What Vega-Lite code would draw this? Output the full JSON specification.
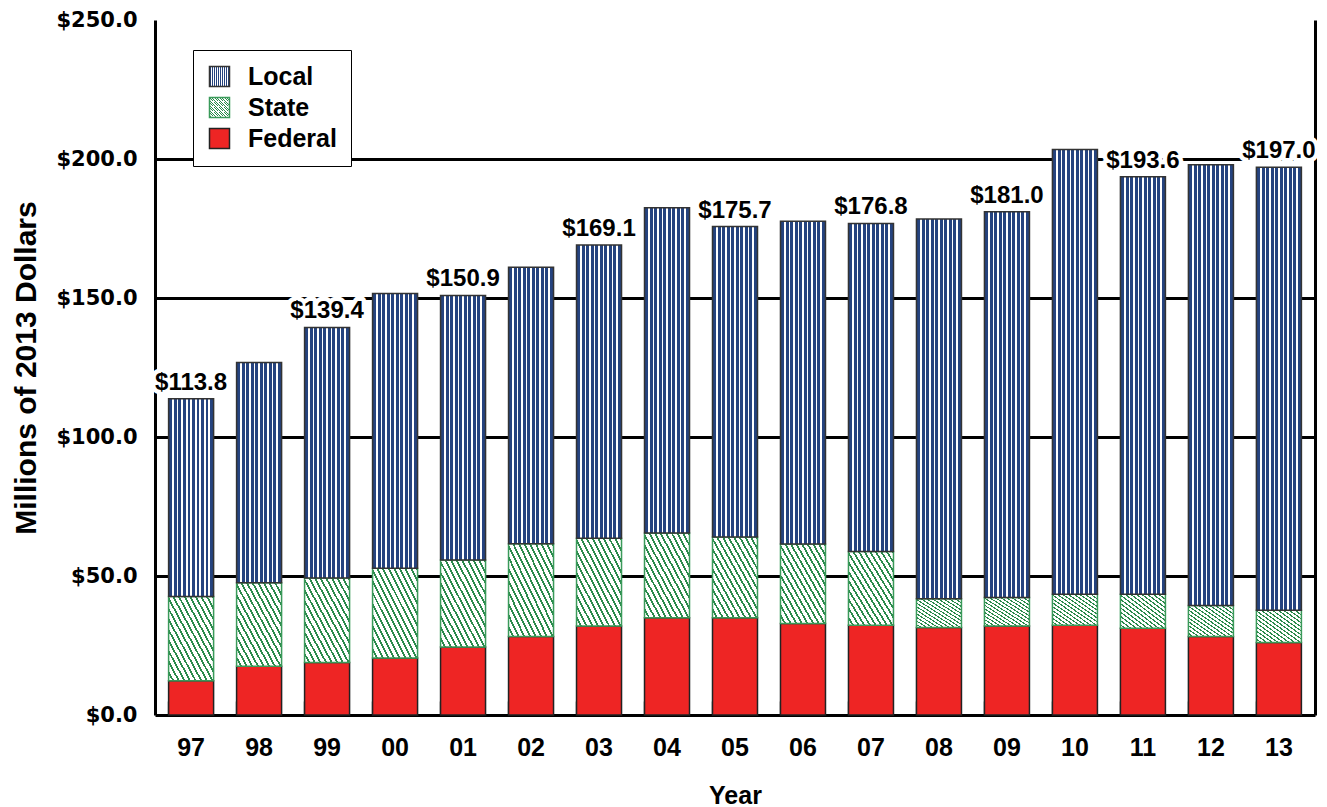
{
  "$schema": "https://vega.github.io/schema/vega-lite/v6.json",
  "width": 1160,
  "height": 695,
  "autosize": "none",
  "padding": {"left": 155, "top": 20, "right": 12, "bottom": 92},
  "background": "white",
  "config": {"view": {"stroke": null}, "font": "Liberation Sans"},
  "data": {"values": [
    {"year": "97", "Federal": 12.3, "State": 30.3, "Local": 71.2},
    {"year": "98", "Federal": 17.5, "State": 30.1, "Local": 79.2},
    {"year": "99", "Federal": 18.9, "State": 30.4, "Local": 90.1},
    {"year": "00", "Federal": 20.5, "State": 32.3, "Local": 98.8},
    {"year": "01", "Federal": 24.5, "State": 31.3, "Local": 95.1},
    {"year": "02", "Federal": 28.2, "State": 33.4, "Local": 99.5},
    {"year": "03", "Federal": 32.0, "State": 31.6, "Local": 105.5},
    {"year": "04", "Federal": 35.0, "State": 30.5, "Local": 117.0},
    {"year": "05", "Federal": 35.0, "State": 29.0, "Local": 111.7},
    {"year": "06", "Federal": 32.9, "State": 28.6, "Local": 116.1},
    {"year": "07", "Federal": 32.3, "State": 26.5, "Local": 118.0},
    {"year": "08", "Federal": 31.5, "State": 10.3, "Local": 136.6},
    {"year": "09", "Federal": 32.0, "State": 10.3, "Local": 138.7},
    {"year": "10", "Federal": 32.3, "State": 11.1, "Local": 160.0},
    {"year": "11", "Federal": 31.2, "State": 12.2, "Local": 150.2},
    {"year": "12", "Federal": 28.2, "State": 11.2, "Local": 158.5},
    {"year": "13", "Federal": 26.1, "State": 11.6, "Local": 159.3}
  ]},
  "transform": [
    {"fold": ["Federal", "State", "Local"], "as": ["source", "value"]},
    {"calculate": "indexof(['Federal','State','Local'], datum.source)", "as": "ord"}
  ],
  "encoding": {
    "x": {
      "field": "year", "type": "ordinal",
      "sort": ["97","98","99","00","01","02","03","04","05","06","07","08","09","10","11","12","13"],
      "scale": {"paddingInner": 0.338, "paddingOuter": 0.2},
      "axis": {
        "labelAngle": 0, "labelFont": "Liberation Sans", "labelFontSize": 25, "labelFontWeight": "bold", "labelColor": "black",
        "labelPadding": 34, "bandPosition": 0, "ticks": true, "tickSize": -14, "tickColor": "#555555", "tickWidth": 1.5,
        "domain": true, "domainColor": "black", "domainWidth": 3, "grid": false,
        "title": "Year", "titleFont": "Liberation Sans", "titleFontSize": 25, "titleFontWeight": "bold", "titleColor": "black", "titlePadding": 23
      }
    }
  },
  "layer": [
    {
      "mark": {"type": "bar", "strokeWidth": 1.5},
      "encoding": {
        "y": {
          "field": "value", "type": "quantitative", "stack": "zero",
          "scale": {"domain": [0, 250], "nice": false},
          "axis": {
            "orient": "left", "values": [0, 50, 100, 150, 200, 250], "format": "$.1f",
            "labelFont": "DejaVu Sans", "labelFontSize": 21, "labelFontWeight": "bold", "labelColor": "black", "labelPadding": 18,
            "ticks": false, "domain": true, "domainColor": "black", "domainWidth": 3, "grid": false,
            "title": "Millions of 2013 Dollars", "titleFont": "Liberation Sans", "titleFontSize": 30, "titleFontWeight": "bold", "titleColor": "black", "titlePadding": 14
          }
        },
        "fill": {
          "field": "source", "type": "nominal",
          "scale": {
            "domain": ["Local", "State", "Federal"],
            "range": [
              {"expr": "{gradient:'linear',x1:0,y1:0,x2:1,y2:0,stops:[{offset:0,color:'#ffffff'},{offset:0.02,color:'#ffffff'},{offset:0.02,color:'#25437f'},{offset:0.085,color:'#25437f'},{offset:0.085,color:'#ffffff'},{offset:0.12,color:'#ffffff'},{offset:0.12,color:'#25437f'},{offset:0.185,color:'#25437f'},{offset:0.185,color:'#ffffff'},{offset:0.22,color:'#ffffff'},{offset:0.22,color:'#25437f'},{offset:0.285,color:'#25437f'},{offset:0.285,color:'#ffffff'},{offset:0.32,color:'#ffffff'},{offset:0.32,color:'#25437f'},{offset:0.385,color:'#25437f'},{offset:0.385,color:'#ffffff'},{offset:0.42,color:'#ffffff'},{offset:0.42,color:'#25437f'},{offset:0.485,color:'#25437f'},{offset:0.485,color:'#ffffff'},{offset:0.52,color:'#ffffff'},{offset:0.52,color:'#25437f'},{offset:0.585,color:'#25437f'},{offset:0.585,color:'#ffffff'},{offset:0.62,color:'#ffffff'},{offset:0.62,color:'#25437f'},{offset:0.685,color:'#25437f'},{offset:0.685,color:'#ffffff'},{offset:0.72,color:'#ffffff'},{offset:0.72,color:'#25437f'},{offset:0.785,color:'#25437f'},{offset:0.785,color:'#ffffff'},{offset:0.82,color:'#ffffff'},{offset:0.82,color:'#25437f'},{offset:0.885,color:'#25437f'},{offset:0.885,color:'#ffffff'},{offset:0.92,color:'#ffffff'},{offset:0.92,color:'#25437f'},{offset:0.985,color:'#25437f'},{offset:0.985,color:'#ffffff'},{offset:1,color:'#ffffff'}]}"},
              {"expr": "{gradient:'linear',x1:1,y1:0,x2:0,y2:1,stops:[{offset:0,color:'#2b8a4c'},{offset:0.022,color:'#2b8a4c'},{offset:0.022,color:'#ffffff'},{offset:0.0625,color:'#ffffff'},{offset:0.0625,color:'#2b8a4c'},{offset:0.0845,color:'#2b8a4c'},{offset:0.0845,color:'#ffffff'},{offset:0.125,color:'#ffffff'},{offset:0.125,color:'#2b8a4c'},{offset:0.147,color:'#2b8a4c'},{offset:0.147,color:'#ffffff'},{offset:0.1875,color:'#ffffff'},{offset:0.1875,color:'#2b8a4c'},{offset:0.2095,color:'#2b8a4c'},{offset:0.2095,color:'#ffffff'},{offset:0.25,color:'#ffffff'},{offset:0.25,color:'#2b8a4c'},{offset:0.272,color:'#2b8a4c'},{offset:0.272,color:'#ffffff'},{offset:0.3125,color:'#ffffff'},{offset:0.3125,color:'#2b8a4c'},{offset:0.3345,color:'#2b8a4c'},{offset:0.3345,color:'#ffffff'},{offset:0.375,color:'#ffffff'},{offset:0.375,color:'#2b8a4c'},{offset:0.397,color:'#2b8a4c'},{offset:0.397,color:'#ffffff'},{offset:0.4375,color:'#ffffff'},{offset:0.4375,color:'#2b8a4c'},{offset:0.4595,color:'#2b8a4c'},{offset:0.4595,color:'#ffffff'},{offset:0.5,color:'#ffffff'},{offset:0.5,color:'#2b8a4c'},{offset:0.522,color:'#2b8a4c'},{offset:0.522,color:'#ffffff'},{offset:0.5625,color:'#ffffff'},{offset:0.5625,color:'#2b8a4c'},{offset:0.5845,color:'#2b8a4c'},{offset:0.5845,color:'#ffffff'},{offset:0.625,color:'#ffffff'},{offset:0.625,color:'#2b8a4c'},{offset:0.647,color:'#2b8a4c'},{offset:0.647,color:'#ffffff'},{offset:0.6875,color:'#ffffff'},{offset:0.6875,color:'#2b8a4c'},{offset:0.7095,color:'#2b8a4c'},{offset:0.7095,color:'#ffffff'},{offset:0.75,color:'#ffffff'},{offset:0.75,color:'#2b8a4c'},{offset:0.772,color:'#2b8a4c'},{offset:0.772,color:'#ffffff'},{offset:0.8125,color:'#ffffff'},{offset:0.8125,color:'#2b8a4c'},{offset:0.8345,color:'#2b8a4c'},{offset:0.8345,color:'#ffffff'},{offset:0.875,color:'#ffffff'},{offset:0.875,color:'#2b8a4c'},{offset:0.897,color:'#2b8a4c'},{offset:0.897,color:'#ffffff'},{offset:0.9375,color:'#ffffff'},{offset:0.9375,color:'#2b8a4c'},{offset:0.9595,color:'#2b8a4c'},{offset:0.9595,color:'#ffffff'},{offset:1,color:'#ffffff'}]}"},
              "#ee2524"
            ]
          },
          "legend": {
            "orient": "none", "legendX": 38, "legendY": 30, "title": null,
            "symbolType": "square", "symbolSize": 400, "symbolStrokeWidth": 1.5,
            "labelFont": "Liberation Sans", "labelFontSize": 25, "labelFontWeight": "bold", "labelColor": "black",
            "labelOffset": 16, "rowPadding": 4, "padding": 14, "strokeColor": "black", "fillColor": "white"
          }
        },
        "stroke": {
          "field": "source", "type": "nominal",
          "scale": {"domain": ["Local", "State", "Federal"], "range": ["#333333", "#3a9a5a", "#222222"]}
        },
        "order": {"field": "ord", "type": "quantitative", "sort": "ascending"}
      }
    },
    {
      "transform": [
        {"aggregate": [{"op": "sum", "field": "value", "as": "total"}], "groupby": ["year"]},
        {"filter": {"field": "year", "oneOf": ["97","99","01","03","05","07","09","11","13"]}}
      ],
      "mark": {"type": "text", "baseline": "alphabetic", "dy": -9, "font": "Liberation Sans", "fontSize": 24, "fontWeight": "bold", "stroke": "white", "strokeWidth": 9, "strokeJoin": "round", "fill": "white"},
      "encoding": {
        "y": {
          "field": "total", "type": "quantitative",
          "axis": {
            "orient": "right", "values": [50, 100, 150, 200], "labels": false, "ticks": false,
            "domain": true, "domainColor": "black", "domainWidth": 3,
            "grid": true, "gridColor": "black", "gridWidth": 3, "gridOpacity": 1, "title": null
          }
        },
        "text": {"field": "total", "type": "quantitative", "format": "$.1f"}
      }
    },
    {
      "transform": [
        {"aggregate": [{"op": "sum", "field": "value", "as": "total"}], "groupby": ["year"]},
        {"filter": {"field": "year", "oneOf": ["97","99","01","03","05","07","09","11","13"]}}
      ],
      "mark": {"type": "text", "baseline": "alphabetic", "dy": -9, "font": "Liberation Sans", "fontSize": 24, "fontWeight": "bold", "fill": "black"},
      "encoding": {
        "y": {"field": "total", "type": "quantitative", "axis": null},
        "text": {"field": "total", "type": "quantitative", "format": "$.1f"}
      }
    }
  ],
  "resolve": {"axis": {"y": "independent"}}
}
